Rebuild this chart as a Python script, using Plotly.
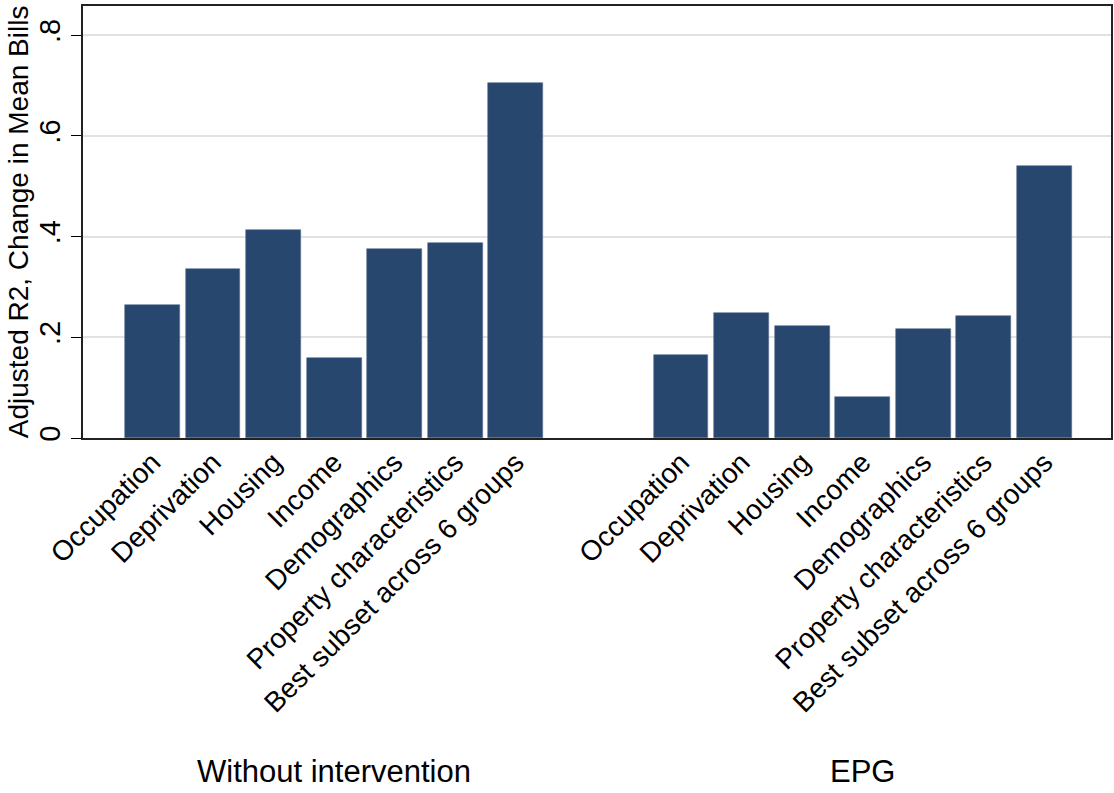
import plotly.graph_objects as go

categories = ["Occupation", "Deprivation", "Housing", "Income", "Demographics",
              "Property characteristics", "Best subset across 6 groups"]
groups = ["Without intervention", "EPG"]
without_intervention = [0.265, 0.335, 0.414, 0.158, 0.376, 0.388, 0.705]
epg = [0.165, 0.248, 0.222, 0.081, 0.217, 0.242, 0.541]
series = [without_intervention, epg]

GROUP_OFFSET = 8.73  # slot offset between the two groups
BAR_COLOR = "#27476e"
FONT = "Liberation Sans, Arial, Helvetica, sans-serif"

fig = go.Figure()
tickvals, ticktext = [], []
for g, vals in enumerate(series):
    xs = [i + g * GROUP_OFFSET for i in range(len(categories))]
    fig.add_trace(go.Bar(
        x=xs, y=vals, width=0.906, name=groups[g],
        marker=dict(color=BAR_COLOR, line=dict(color="#5a7090", width=0.6)),
        showlegend=False,
    ))
    tickvals += xs
    ticktext += categories
    fig.add_annotation(
        x=(len(categories) - 1) / 2 + g * GROUP_OFFSET, xref="x",
        y=-0.773, yref="paper", text=groups[g], showarrow=False,
        xanchor="center", yanchor="middle",
        font=dict(size=31, color="black", family=FONT),
    )

fig.add_annotation(
    x=-0.063, xref="paper", y=0.5, yref="paper",
    text="Adjusted R2, Change in Mean Bills", textangle=-90, showarrow=False,
    xanchor="center", yanchor="middle",
    font=dict(size=28, color="black", family=FONT),
)

fig.update_layout(
    width=1114, height=793,
    margin=dict(l=83, r=1, t=6, b=355),
    paper_bgcolor="white", plot_bgcolor="white",
    font=dict(family=FONT, color="black"),
    bargap=0,
    xaxis=dict(
        range=[-1.146, 15.83], tickvals=tickvals, ticktext=ticktext,
        tickangle=-45, ticks="", showgrid=False, zeroline=False,
        showline=True, linecolor="#222222", linewidth=1.5, mirror=True,
        tickfont=dict(size=28, color="black"), ticklabelstandoff=-5,
    ),
    yaxis=dict(
        range=[0, 0.858], tickvals=[0, 0.2, 0.4, 0.6, 0.8],
        ticktext=["0", ".2", ".4", ".6", ".8"], tickangle=-90,
        ticks="outside", ticklen=10, tickcolor="black", tickwidth=1.3,
        showgrid=True, gridcolor="#e2e2e2", gridwidth=1.5,
        zeroline=False, showline=True, linecolor="#222222", linewidth=1.5,
        mirror=True, tickfont=dict(size=29, color="black"),
    ),
)

fig.write_html("out.html", config={"displayModeBar": False},
               post_script="document.body.style.margin='0';")
